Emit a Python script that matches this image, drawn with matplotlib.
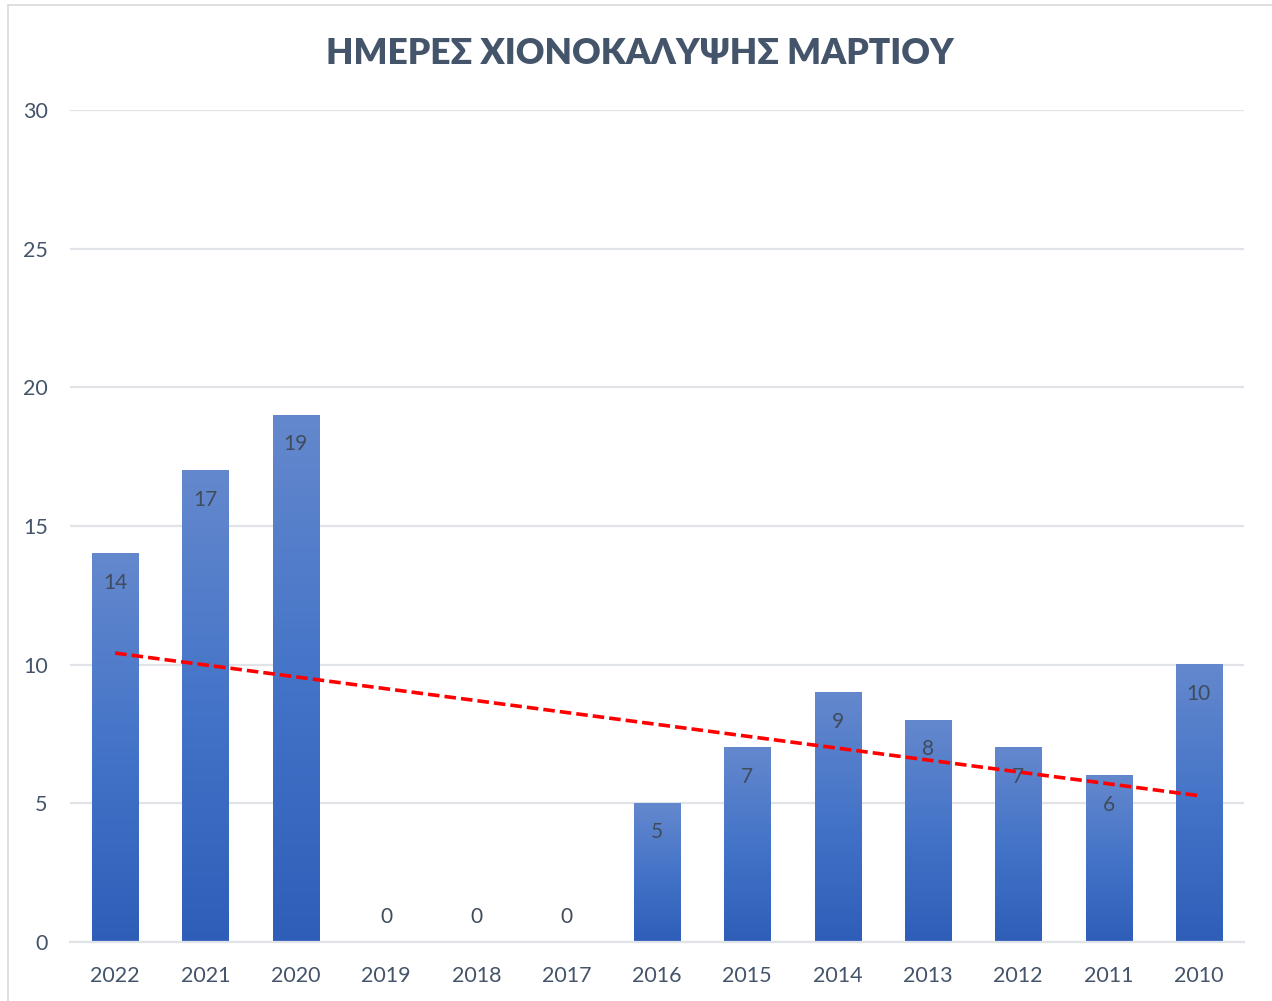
import numpy as np
import matplotlib.pyplot as plt
from matplotlib.colors import LinearSegmentedColormap
from matplotlib.patches import Rectangle

years = ['2022', '2021', '2020', '2019', '2018', '2017', '2016',
         '2015', '2014', '2013', '2012', '2011', '2010']
days = [14, 17, 19, 0, 0, 0, 5, 7, 9, 8, 7, 6, 10]

title = 'ΗΜΕΡΕΣ ΧΙΟΝΟΚΑΛΥΨΗΣ ΜΑΡΤΙΟΥ'
text_col = '#44546a'
grid_col = '#e0e3e8'

plt.rcParams['font.family'] = ['Lato', 'DejaVu Sans']

fig = plt.figure(figsize=(12.72, 10.01), dpi=100)
ax = fig.add_axes([0.055, 0.059, 0.923, 0.831])

x = np.arange(len(years))
bars = ax.bar(x, days, width=0.51, color='none', edgecolor='none', zorder=2)

# vertical gradient for every bar (light top, darker bottom)
cmap = LinearSegmentedColormap.from_list('barg', ['#2e5eb8', '#4474c8', '#6488cd'])
grad = np.linspace(0, 1, 256).reshape(-1, 1)
for b in bars:
    if b.get_height() <= 0:
        continue
    ax.imshow(grad, cmap=cmap, origin='lower', aspect='auto', zorder=2,
              extent=[b.get_x(), b.get_x() + b.get_width(), 0, b.get_height()])

# data labels
for xi, v in zip(x, days):
    dy = -21 if v > 0 else 18
    ax.annotate(str(v), (xi, v), xytext=(0, dy), textcoords='offset points',
                ha='center', va='center', fontsize=15, color='#404b5c', zorder=3)

# linear trend line
k, c = np.polyfit(x, days, 1)
ax.plot(x, k * x + c, color='#ff0000', lw=2.6, ls=(0, (3.2, 1.4)), zorder=4)

ax.set_xlim(-0.5, len(years) - 0.5)
ax.set_ylim(0, 30)
ax.set_yticks(range(0, 31, 5))
ax.set_xticks(x)
ax.set_xticklabels(years)
ax.tick_params(length=0, labelsize=15.5, colors=text_col)
ax.tick_params(axis='x', pad=17)
ax.tick_params(axis='y', pad=16)
ax.yaxis.grid(True, color=grid_col, lw=1.6, zorder=0)
ax.set_axisbelow(True)
for s in ['top', 'right', 'left']:
    ax.spines[s].set_visible(False)
ax.spines['bottom'].set_color(grid_col)
ax.spines['bottom'].set_linewidth(1.6)

fig.text(0.503, 0.947, title, ha='center', va='center', fontsize=25.5,
         fontweight='heavy', color=text_col)

# chart area border
fig.patches.append(Rectangle((0.006, -0.01), 1.1, 1.005, transform=fig.transFigure,
                             fill=False, edgecolor='#d9d9d9', lw=1.2))

fig.savefig('out.png', dpi=100)
